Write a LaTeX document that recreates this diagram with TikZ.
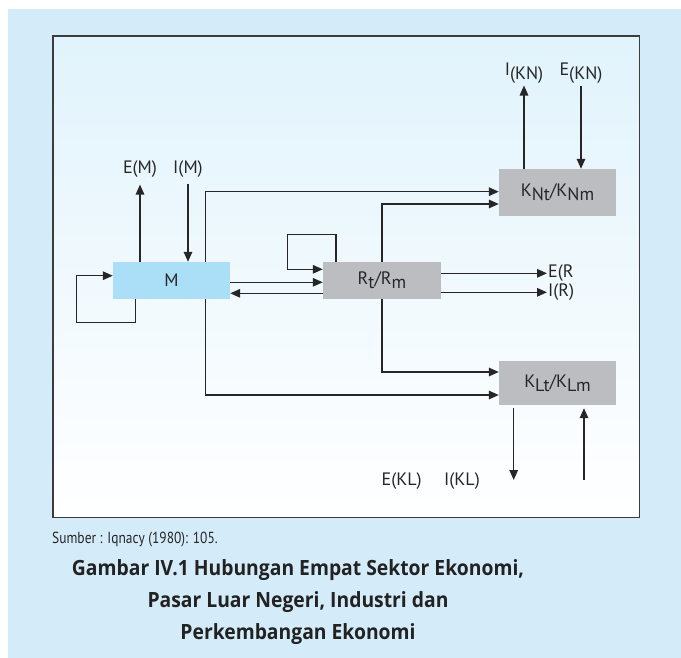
\documentclass[tikz,border=0pt]{standalone}
\usepackage{fontspec}
\setmainfont{PT Sans}
\newfontfamily\capfont[FakeStretch=0.92]{Open Sans}
\newfontfamily\srcfont[FakeStretch=0.84]{PT Sans}
\usetikzlibrary{arrows.meta}
\definecolor{panel}{HTML}{D4ECFA}
\definecolor{framebg}{HTML}{E1F3FC}
\definecolor{mblue}{HTML}{ABDFF8}
\definecolor{boxgray}{HTML}{BCBDC0}
\definecolor{ink}{HTML}{262626}
\newcommand{\subdown}[1]{\raisebox{-0.45ex}{#1}}
\begin{document}
\begin{tikzpicture}[x=1pt,y=-1pt,
  line/.style={draw=ink,line width=1.5pt},
  arr/.style={line,-{Triangle[length=10pt,width=8.5pt]}},
  box/.style={minimum width=117pt,inner sep=0pt,text=ink,font=\fontsize{18}{20}\selectfont},
  lab/.style={text=ink,font=\fontsize{18}{20}\selectfont,inner sep=1pt},
  captext/.style={anchor=base,inner sep=0pt,text=ink!90!black,font=\capfont\bfseries\fontsize{21}{26}\selectfont}]
\useasboundingbox (0,0) rectangle (681,658);
\fill[panel] (8,9) rectangle (681,658);
\shade[top color=framebg,bottom color=white] (53,36) rectangle (639.5,517.5);
\draw[draw=ink!90,line width=1.8pt] (53,36) rectangle (639.5,517.5);

% coordinates for bends and free ends
\coordinate (mk) at (205.3,191.7);
\coordinate (mkl) at (205.3,395);
\coordinate (rk) at (382,204);
\coordinate (rkl) at (382,372);
\coordinate (ml1) at (135.7,322.7);
\coordinate (ml2) at (76.7,275.7);
\coordinate (rl1) at (336,234.3);
\coordinate (rl2) at (287.7,269.3);
\coordinate (mr) at (0,282.3);
\coordinate (rm) at (0,293.3);
\coordinate (kld) at (513.7,480);
\coordinate (klu) at (584,480);

% boxes
\node[box,fill=mblue,minimum height=37pt] (M) at (171.5,280.5) {M};
\node[box,fill=boxgray,minimum height=37pt,minimum width=118pt] (R) at (382,280.5) {R\subdown{t}/R\subdown{m}};
\node[box,fill=boxgray,minimum height=47pt] (KN) at (557.5,192.5) {K\subdown{Nt}/K\subdown{Nm}};
\node[box,fill=boxgray,minimum height=44pt] (KL) at (557.5,383) {K\subdown{Lt}/K\subdown{Lm}};

% labels
\node[lab] (EM) at (140,169) {E(M)};
\node[lab] (IM) at (188,169) {I(M)};
\node[lab] (IKN) at (524,73) {I\subdown{(KN)}};
\node[lab] (EKN) at (581,73) {E\subdown{(KN)}};
\node[lab,anchor=west] (ER) at (547,273.3) {E(R};
\node[lab,anchor=west] (IR) at (547,292.3) {I(R)};
\node[lab] (EKL) at (401.7,481) {E(KL)};
\node[lab] (IKL) at (462,481) {I(KL)};

% connectors
\draw[arr] (M.north -| mk) -- (mk) -- (KN.west |- mk);
\draw[arr] (M.south -| mkl) -- (mkl) -- (KL.west |- mkl);
\draw[arr,shorten >=6pt] (M.north -| EM) -- (EM.south);
\draw[arr,shorten <=5pt] (IM.south) -- (M.north -| IM);
\draw[arr] (M.south -| ml1) -- (ml1) -- (ml1 -| ml2) -- (ml2) -- (M.west |- ml2);
\draw[arr] (R.north -| rl1) -- (rl1) -- (rl1 -| rl2) -- (rl2) -- (R.west |- rl2);
\draw[arr] (M.east |- mr) -- (R.west |- mr);
\draw[arr] (R.west |- rm) -- (M.east |- rm);
\draw[arr] (R.north -| rk) -- (rk) -- (KN.west |- rk);
\draw[arr] (R.south -| rkl) -- (rkl) -- (KL.west |- rkl);
\draw[arr] (R.east |- ER.west) -- (ER.west);
\draw[arr] (R.east |- IR.west) -- (IR.west);
\draw[arr,shorten >=1pt] (KN.north -| IKN) -- (IKN.south);
\draw[arr,shorten <=1pt] (EKN.south) -- (KN.north -| EKN);
\draw[arr,shorten <=3pt] (KL.south -| kld) -- (kld);
\draw[arr,shorten >=3pt] (klu) -- (KL.south -| klu);

% caption
\node[anchor=base west,inner sep=0pt,text=ink,font=\srcfont\fontsize{16}{20}\selectfont] (src) at (52,543) {Sumber : Iqnacy (1980): 105.};
\node[captext] (cap1) at (298,575.3) {Gambar IV.1 Hubungan Empat Sektor Ekonomi,};
\node[captext] (cap2) at (298,607.5) {Pasar Luar Negeri, Industri dan};
\node[captext] (cap3) at (298,639) {Perkembangan Ekonomi};
\end{tikzpicture}
\end{document}
